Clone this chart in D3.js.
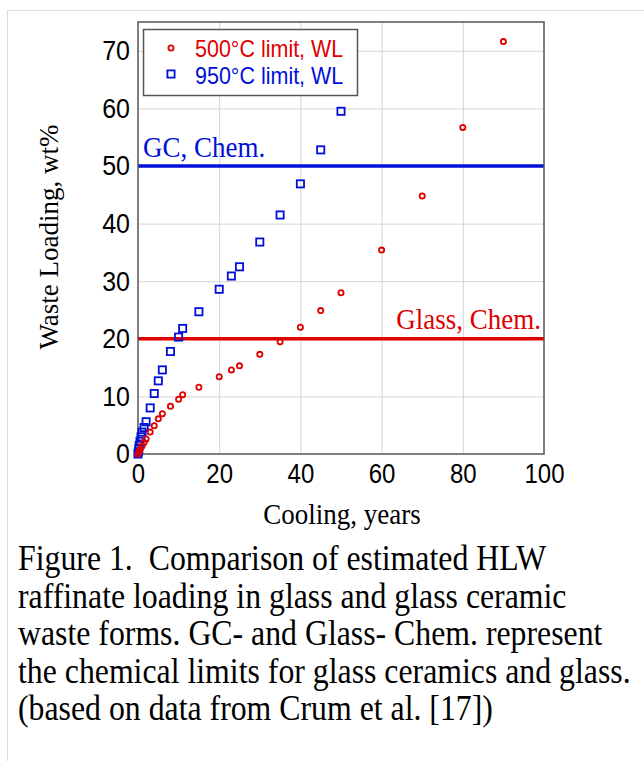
<!DOCTYPE html>
<html>
<head>
<meta charset="utf-8">
<script src="https://cdn.jsdelivr.net/npm/d3@7"></script>
<style>
  body { margin: 0; background: #fff; }
  svg { display: block; }
</style>
</head>
<body>
<svg id="chart" width="644" height="761"></svg>
<script>
// 500C limit (red circles)
const redYears = [0, 0.25, 0.5, 1, 1.5, 2, 3, 4, 5, 6, 8, 10, 11, 15, 20, 23, 25, 30, 35, 40, 45, 50, 60, 70, 80, 90];
const redWL = [0, 0.4, 0.8, 1.4, 2.0, 2.6, 3.8, 4.9, 6.1, 7.0, 8.3, 9.5, 10.3, 11.6, 13.4, 14.6, 15.3, 17.3, 19.5, 22.0, 24.9, 28.0, 35.4, 44.8, 56.7, 71.6];

// 950C limit (blue squares)
const blueYears = [0, 0.1, 0.2, 0.3, 0.5, 0.75, 1, 1.5, 2, 3, 4, 5, 6, 8, 10, 11, 15, 20, 23, 25, 30, 35, 40, 45, 50];
const blueWL = [0, 0.4, 0.9, 1.5, 2.2, 3.0, 3.8, 4.6, 5.6, 8.0, 10.5, 12.7, 14.6, 17.8, 20.3, 21.8, 24.7, 28.6, 30.9, 32.5, 36.8, 41.5, 46.9, 52.8, 59.5];

// chemical limits
const limitNames = ["GC, Chem.", "Glass, Chem."];
const limitValues = [50, 20];

const xTicks = [0, 20, 40, 60, 80, 100];
const yTicks = [0, 10, 20, 30, 40, 50, 60, 70];
const legendLabels = ["500\u00B0C limit, WL", "950\u00B0C limit, WL"];

const captionLines = [
    "Figure 1.  Comparison of estimated HLW",
    "raffinate loading in glass and glass ceramic",
    "waste forms. GC- and Glass- Chem. represent",
    "the chemical limits for glass ceramics and glass.",
    "(based on data from Crum et al. [17])"
];

const RED = "#e00000";
const BLUE = "#0010d8";
const sans = "Liberation Sans, Arial, sans-serif";
const serif = "Liberation Serif, Times New Roman, serif";
const stretch = 1.12; // the source text is a bit taller than wide

const svg = d3.select("#chart");

// outer page frame
svg.append("path")
    .attr("d", "M7.5,761 V10.5 H644")
    .attr("fill", "none")
    .attr("stroke", "#ddd")
    .attr("stroke-width", 1);

const x = d3.scaleLinear().domain([0, 100]).range([138, 544]);
const y = d3.scaleLinear().domain([0, 75]).range([454, 22]);

// grid
svg.append("g")
    .attr("transform", `translate(0, ${y(0)})`)
    .call(d3.axisBottom(x).tickValues(xTicks.slice(1, -1)).tickSize(y(75) - y(0)).tickFormat(""))
    .call(g => g.select(".domain").remove())
    .selectAll("line").attr("stroke", "#d4d4d4");

svg.append("g")
    .attr("transform", `translate(${x(0)}, 0)`)
    .call(d3.axisRight(y).tickValues(yTicks.slice(1)).tickSize(x(100) - x(0)).tickFormat(""))
    .call(g => g.select(".domain").remove())
    .selectAll("line").attr("stroke", "#d4d4d4");

// tick labels
svg.append("g")
    .attr("transform", `translate(0, ${y(0)})`)
    .call(d3.axisBottom(x).tickValues(xTicks).tickSize(0).tickPadding(9))
    .call(g => g.select(".domain").remove())
    .selectAll("text")
    .attr("font-family", sans)
    .attr("font-size", 24)
    .attr("fill", "#000")
    .attr("transform", `scale(1, ${stretch})`);

svg.append("g")
    .attr("transform", `translate(${x(0)}, 0)`)
    .call(d3.axisLeft(y).tickValues(yTicks).tickSize(0).tickPadding(8))
    .call(g => g.select(".domain").remove())
    .selectAll("text")
    .attr("font-family", sans)
    .attr("font-size", 25)
    .attr("fill", "#000")
    .attr("transform", `scale(1, ${stretch})`);

// limit lines
const limitColors = [BLUE, RED];
svg.selectAll(".limit")
    .data(limitValues)
    .enter().append("line")
    .attr("class", "limit")
    .attr("x1", x(0))
    .attr("x2", x(100))
    .attr("y1", d => y(d))
    .attr("y2", d => y(d))
    .attr("stroke", (d, i) => limitColors[i])
    .attr("stroke-width", 3.5);

svg.append("text")
    .attr("transform", `translate(${x(0) + 5}, ${y(limitValues[0]) - 9}) scale(1, ${stretch})`)
    .attr("font-family", serif)
    .attr("font-size", 27)
    .attr("fill", BLUE)
    .text(limitNames[0]);

svg.append("text")
    .attr("transform", `translate(${x(100) - 3}, ${y(limitValues[1]) - 10}) scale(1, ${stretch})`)
    .attr("text-anchor", "end")
    .attr("font-family", serif)
    .attr("font-size", 27)
    .attr("fill", RED)
    .text(limitNames[1]);

// frame
svg.append("rect")
    .attr("x", x(0))
    .attr("y", y(75))
    .attr("width", x(100) - x(0))
    .attr("height", y(0) - y(75))
    .attr("fill", "none")
    .attr("stroke", "#555")
    .attr("stroke-width", 1.5);

// markers
const blueData = blueYears.map((d, i) => ({ yr: d, wl: blueWL[i] }));
const redData = redYears.map((d, i) => ({ yr: d, wl: redWL[i] }));

svg.selectAll(".sq")
    .data(blueData)
    .enter().append("rect")
    .attr("class", "sq")
    .attr("x", d => x(d.yr) - 3.6)
    .attr("y", d => y(d.wl) - 3.6)
    .attr("width", 7.2)
    .attr("height", 7.2)
    .attr("fill", "none")
    .attr("stroke", BLUE)
    .attr("stroke-width", 1.8);

svg.selectAll(".dot")
    .data(redData)
    .enter().append("circle")
    .attr("class", "dot")
    .attr("cx", d => x(d.yr))
    .attr("cy", d => y(d.wl))
    .attr("r", 2.6)
    .attr("fill", "none")
    .attr("stroke", RED)
    .attr("stroke-width", 1.8);

// legend
const legend = svg.append("g");
legend.append("rect")
    .attr("x", 143.5)
    .attr("y", 29.5)
    .attr("width", 214)
    .attr("height", 66)
    .attr("fill", "#fff")
    .attr("stroke", "#555")
    .attr("stroke-width", 1.5);

legend.append("circle")
    .attr("cx", 171).attr("cy", 48).attr("r", 2.6)
    .attr("fill", "none").attr("stroke", RED).attr("stroke-width", 1.8);
legend.append("rect")
    .attr("x", 171 - 3.6).attr("y", 74 - 3.6).attr("width", 7.2).attr("height", 7.2)
    .attr("fill", "none").attr("stroke", BLUE).attr("stroke-width", 1.8);

legend.selectAll(".ltext")
    .data(legendLabels)
    .enter().append("text")
    .attr("class", "ltext")
    .attr("transform", (d, i) => `translate(195, ${57 + i * 27}) scale(1, ${stretch})`)
    .attr("font-family", sans)
    .attr("font-size", 21.5)
    .attr("fill", (d, i) => i === 0 ? RED : BLUE)
    .text(d => d);

// axis titles
svg.append("text")
    .attr("transform", "translate(58, 237) rotate(-90)")
    .attr("text-anchor", "middle")
    .attr("font-family", serif)
    .attr("font-size", 27)
    .text("Waste Loading, wt%");

svg.append("text")
    .attr("transform", `translate(342, 524) scale(1, ${stretch})`)
    .attr("text-anchor", "middle")
    .attr("font-family", serif)
    .attr("font-size", 27)
    .text("Cooling, years");

// caption
svg.selectAll(".cap")
    .data(captionLines)
    .enter().append("text")
    .attr("class", "cap")
    .attr("transform", (d, i) => `translate(18, ${570 + i * 37.5}) scale(1, ${stretch})`)
    .attr("font-family", serif)
    .attr("font-size", 31.8)
    .style("white-space", "pre")
    .text(d => d);
</script>
</body>
</html>
